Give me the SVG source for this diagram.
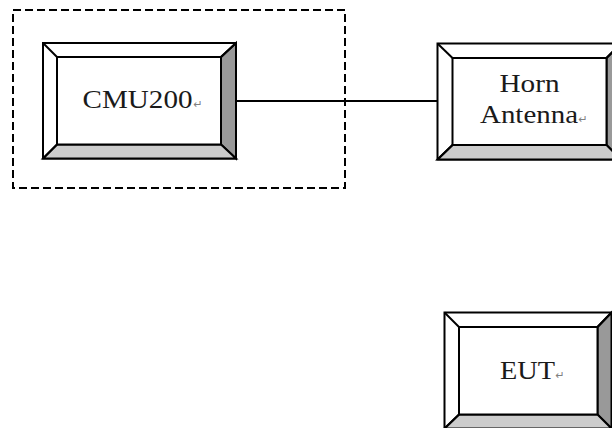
<svg xmlns="http://www.w3.org/2000/svg" width="612" height="428" viewBox="0 0 612 428">
  <style>
    .frame { fill: #ffffff; stroke: #000000; stroke-width: 2; }
    .dark { fill: #999999; stroke: #000000; stroke-width: 2; stroke-linejoin: miter; }
    .light { fill: #cccccc; stroke: #000000; stroke-width: 2; stroke-linejoin: miter; }
    .edge { stroke: #000000; stroke-width: 2; fill: none; }
    .inner { fill: #ffffff; stroke: #000000; stroke-width: 2; }
    .label { font-family: "Liberation Serif", "Times New Roman", serif; font-size: 26px; fill: #1a1a1a; }
    .mark { font-family: "DejaVu Sans", sans-serif; font-size: 11px; fill: #808080; }
    .dash { fill: none; stroke: #000000; stroke-width: 2; stroke-dasharray: 8 4; }
    .wire { stroke: #000000; stroke-width: 1.8; fill: none; }
  </style>
  <rect width="612" height="428" fill="#ffffff"/>

  <g id="instrument-group">
    <rect class="dash" x="13" y="10" width="332" height="178"/>
  </g>

  <g id="connectors">
    <line class="wire" x1="236" y1="101" x2="437.5" y2="101"/>
  </g>

  <g id="cmu200">
    <rect class="frame" x="43" y="43" width="193" height="115.5"/>
    <polygon class="dark" points="236,43 236,158.5 221,144.5 221,57"/>
    <polygon class="light" points="43,158.5 236,158.5 221,144.5 57,144.5"/>
    <line class="edge" x1="43" y1="43" x2="57" y2="57"/>
    <line class="edge" x1="236" y1="43" x2="221" y2="57"/>
    <line class="edge" x1="43" y1="158.5" x2="57" y2="144.5"/>
    <rect class="inner" x="57" y="57" width="164" height="87.5"/>
    <text class="label" x="82.5" y="108" textLength="110" lengthAdjust="spacingAndGlyphs">CMU200</text>
    <text class="mark" x="193.5" y="108">↵</text>
  </g>

  <g id="horn-antenna">
    <rect class="frame" x="437.5" y="43.5" width="183.5" height="116"/>
    <polygon class="dark" points="621,43.5 621,159.5 606.5,145 606.5,58"/>
    <polygon class="light" points="437.5,159.5 621,159.5 606.5,145 452.5,145"/>
    <line class="edge" x1="437.5" y1="43.5" x2="452.5" y2="58"/>
    <line class="edge" x1="621" y1="43.5" x2="606.5" y2="58"/>
    <line class="edge" x1="437.5" y1="159.5" x2="452.5" y2="145"/>
    <rect class="inner" x="452.5" y="58" width="154" height="87"/>
    <text class="label" x="499.5" y="91.5" textLength="60" lengthAdjust="spacingAndGlyphs">Horn</text>
    <text class="label" x="480" y="123" textLength="98" lengthAdjust="spacingAndGlyphs">Antenna</text>
    <text class="mark" x="578.5" y="123">↵</text>
  </g>

  <g id="eut">
    <rect class="frame" x="444.5" y="312.5" width="167" height="116"/>
    <polygon class="dark" points="611.5,312.5 611.5,428.5 597.5,414.5 597.5,327"/>
    <polygon class="light" points="444.5,428.5 611.5,428.5 597.5,414.5 459,414.5"/>
    <line class="edge" x1="444.5" y1="312.5" x2="459" y2="327"/>
    <line class="edge" x1="611.5" y1="312.5" x2="597.5" y2="327"/>
    <line class="edge" x1="444.5" y1="428.5" x2="459" y2="414.5"/>
    <rect class="inner" x="459" y="327" width="138.5" height="87.5"/>
    <text class="label" x="500" y="378.5" textLength="55" lengthAdjust="spacingAndGlyphs">EUT</text>
    <text class="mark" x="555.5" y="378.5">↵</text>
  </g>
</svg>
